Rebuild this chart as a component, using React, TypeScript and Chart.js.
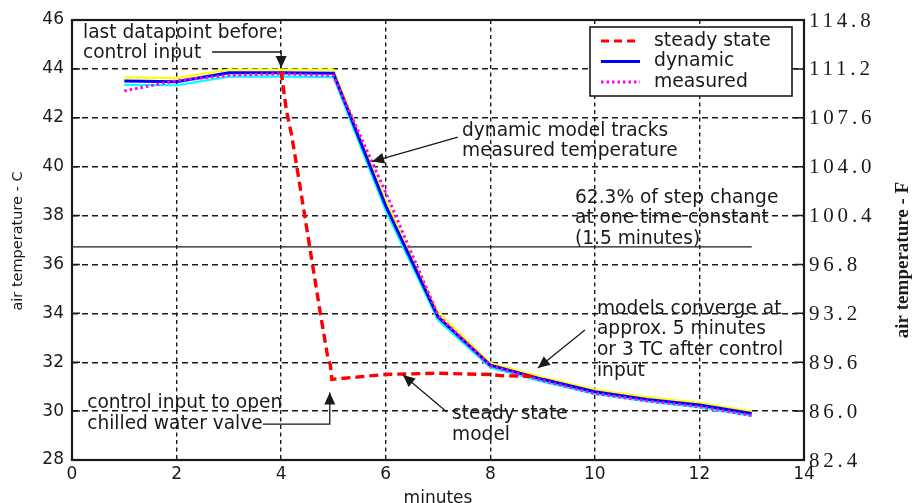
import React, { useEffect, useRef } from "react";
import { Chart, registerables } from "chart.js";

Chart.register(...registerables);

// ---------- data ----------
const minutes = [1, 2, 3, 4, 5, 6, 7, 8, 9, 10, 11, 12, 13];
const dynamicC = [43.5, 43.47, 43.84, 43.84, 43.82, 38.4, 33.86, 31.88, 31.3, 30.79, 30.48, 30.25, 29.9];
const measuredC = [43.1, 43.52, 43.74, 43.8, 43.72, 38.95, 33.92, 31.85, 31.25, 30.72, 30.42, 30.18, 29.82];
const dynamicUpperC = [43.65, 43.62, 43.97, 43.97, 43.97, 38.62, 34.05, 31.97, 31.38, 30.88, 30.57, 30.34, 29.99];
const dynamicLowerC = [43.35, 43.33, 43.68, 43.68, 43.66, 38.2, 33.72, 31.78, 31.2, 30.7, 30.4, 30.15, 29.8];

const steadyMinutes = [4.0, 4.1, 4.2, 4.3, 4.45, 4.6, 4.75, 4.9, 4.94, 4.97, 6.0, 7.0, 7.5, 8.0, 8.2, 8.8];
const steadyC = [43.9, 42.3, 41.3, 40.0, 38.0, 36.0, 34.0, 32.1, 31.9, 31.3, 31.5, 31.55, 31.52, 31.5, 31.45, 31.42];

const stepLineMinutes = [0, 13];
const stepLineC = [36.72, 36.72];

const xTicks = [0, 2, 4, 6, 8, 10, 12, 14];
const celsiusTicks = [28, 30, 32, 34, 36, 38, 40, 42, 44, 46];
const fahrenheitTicks = ["82.4", "86.0", "89.6", "93.2", "96.8", "100.4", "104.0", "107.6", "111.2", "114.8"];

const legendLabels = ["steady state", "dynamic", "measured"];

// annotations: text anchored in data coordinates, arrows as polylines in data coordinates
const notes = [
  { lines: ["last datapoint before", "control input"], at: [0.21, 45.47], arrow: [[2.68, 44.69], [4.0, 44.69], [4.0, 44.04]] },
  { lines: ["dynamic model tracks", "measured temperature"], at: [7.46, 41.47], arrow: [[7.38, 41.21], [5.74, 40.21]] },
  { lines: ["62.3% of step change", "at one time constant", "(1.5 minutes)"], at: [9.62, 38.72], arrow: null },
  { lines: ["models converge at", "approx. 5 minutes", "or 3 TC after control", "input"], at: [10.04, 34.18], arrow: [[9.81, 33.32], [8.91, 31.76]] },
  { lines: ["control input to open", "chilled water valve"], at: [0.29, 30.33], arrow: [[3.65, 29.47], [4.93, 29.47], [4.93, 30.76]] },
  { lines: ["steady state", "model"], at: [7.27, 29.88], arrow: [[7.17, 29.96], [6.33, 31.48]] },
];

// ---------- styles ----------
const SANS = '"DejaVu Sans", "Liberation Sans", sans-serif';
const SERIF = '"Liberation Serif", "DejaVu Serif", serif';
const INK = "#1a1a1a";
const RED = "#ff0000";
const BLUE = "#0000ff";
const MAGENTA = "#ff00ff";

const pts = (xs: number[], ys: number[]) => xs.map((x, i) => ({ x, y: ys[i] }));

const overlayPlugin = {
  id: "overlay",
  afterDraw(chart: any) {
    const { ctx, chartArea: a, scales } = chart;
    const sx = scales.x;
    const sy = scales.y;
    const sy2 = scales.y2;
    const X = (v: number) => sx.getPixelForValue(v);
    const Y = (v: number) => sy.getPixelForValue(v);

    ctx.save();
    ctx.setLineDash([]);
    ctx.strokeStyle = INK;
    ctx.fillStyle = INK;

    // inside tick marks
    ctx.lineWidth = 1.5;
    sy.ticks.forEach((t: any) => {
      const py = Y(t.value);
      ctx.beginPath();
      ctx.moveTo(a.left, py);
      ctx.lineTo(a.left + 8, py);
      ctx.moveTo(a.right, py);
      ctx.lineTo(a.right - 10, py);
      ctx.stroke();
    });

    // frame
    ctx.lineWidth = 2.2;
    ctx.strokeRect(a.left, a.top, a.right - a.left, a.bottom - a.top);

    // right axis labels (Fahrenheit)
    ctx.font = `21px ${SERIF}`;
    (ctx as any).letterSpacing = "3.8px";
    ctx.textAlign = "left";
    ctx.textBaseline = "middle";
    sy2.ticks.forEach((t: any, i: number) => {
      const label = fahrenheitTicks[i] ?? String(t.value);
      ctx.fillText(label, a.right + 5, sy2.getPixelForValue(t.value) + 1);
    });
    (ctx as any).letterSpacing = "0px";

    // axis titles
    ctx.save();
    ctx.translate(903, (a.top + a.bottom) / 2 + 20);
    ctx.rotate(-Math.PI / 2);
    ctx.font = `bold 19px ${SERIF}`;
    ctx.textAlign = "center";
    ctx.textBaseline = "middle";
    ctx.fillText("air temperature - F", 0, 0);
    ctx.restore();

    ctx.save();
    ctx.translate(18, (a.top + a.bottom) / 2 + 1);
    ctx.rotate(-Math.PI / 2);
    ctx.font = `14.5px ${SANS}`;
    ctx.textAlign = "center";
    ctx.textBaseline = "middle";
    ctx.fillText("air temperature - C", 0, 0);
    ctx.restore();

    ctx.font = `17px ${SANS}`;
    ctx.textAlign = "center";
    ctx.textBaseline = "middle";
    ctx.fillText("minutes", (a.left + a.right) / 2, a.bottom + 39);

    // annotations
    ctx.font = `18.6px ${SANS}`;
    ctx.textAlign = "left";
    ctx.textBaseline = "middle";
    notes.forEach((n) => {
      const x0 = X(n.at[0]);
      const y0 = Y(n.at[1]);
      n.lines.forEach((ln, i) => ctx.fillText(ln, x0, y0 + i * 20.7));
      if (n.arrow) {
        const p = n.arrow.map(([u, v]) => [X(u), Y(v)]);
        ctx.lineWidth = 1.3;
        ctx.beginPath();
        ctx.moveTo(p[0][0], p[0][1]);
        for (let i = 1; i < p.length; i++) ctx.lineTo(p[i][0], p[i][1]);
        ctx.stroke();
        const [tx, ty] = p[p.length - 1];
        const [bx, by] = p[p.length - 2];
        const ang = Math.atan2(ty - by, tx - bx);
        const len = 12;
        const hw = 5.5;
        ctx.beginPath();
        ctx.moveTo(tx, ty);
        ctx.lineTo(tx - len * Math.cos(ang) + hw * Math.sin(ang), ty - len * Math.sin(ang) - hw * Math.cos(ang));
        ctx.lineTo(tx - len * Math.cos(ang) - hw * Math.sin(ang), ty - len * Math.sin(ang) + hw * Math.cos(ang));
        ctx.closePath();
        ctx.fill();
      }
    });

    // legend box
    const lx = a.right - 214;
    const ly = a.top + 7;
    ctx.fillStyle = "#ffffff";
    ctx.fillRect(lx, ly, 202, 69);
    ctx.lineWidth = 1.6;
    ctx.strokeStyle = INK;
    ctx.strokeRect(lx, ly, 202, 69);
    const styles = [
      { color: RED, dash: [8, 5], width: 3 },
      { color: BLUE, dash: [], width: 3 },
      { color: MAGENTA, dash: [2.5, 3], width: 3 },
    ];
    ctx.font = `18.8px ${SANS}`;
    ctx.textAlign = "left";
    ctx.textBaseline = "middle";
    legendLabels.forEach((lab, i) => {
      const ry = ly + 14 + i * 20.5;
      const s = styles[i];
      ctx.strokeStyle = s.color;
      ctx.lineWidth = s.width;
      ctx.setLineDash(s.dash);
      ctx.beginPath();
      ctx.moveTo(lx + 11, ry);
      ctx.lineTo(lx + 50, ry);
      ctx.stroke();
      ctx.setLineDash([]);
      ctx.fillStyle = INK;
      ctx.fillText(lab, lx + 64, ry);
    });

    ctx.restore();
  },
};

export default function App() {
  const ref = useRef<HTMLCanvasElement | null>(null);

  useEffect(() => {
    if (!ref.current) return;
    const chart = new Chart(ref.current, {
      type: "line",
      data: {
        datasets: [
          {
            label: legendLabels[0],
            data: pts(steadyMinutes, steadyC),
            borderColor: RED,
            borderWidth: 3.4,
            borderDash: [9, 5],
            pointRadius: 0,
            tension: 0,
            yAxisID: "y",
          },
          {
            label: legendLabels[2],
            data: pts(minutes, measuredC),
            borderColor: MAGENTA,
            borderWidth: 3,
            borderDash: [2.5, 3],
            pointRadius: 0,
            tension: 0,
            yAxisID: "y",
          },
          {
            label: legendLabels[1],
            data: pts(minutes, dynamicC),
            borderColor: BLUE,
            borderWidth: 3,
            pointRadius: 0,
            tension: 0,
            yAxisID: "y",
          },
          {
            label: "upper",
            data: pts(minutes, dynamicUpperC),
            borderColor: "#ffff00",
            borderWidth: 2.2,
            pointRadius: 0,
            tension: 0,
            yAxisID: "y",
          },
          {
            label: "lower",
            data: pts(minutes, dynamicLowerC),
            borderColor: "#00ffff",
            borderWidth: 2.2,
            pointRadius: 0,
            tension: 0,
            yAxisID: "y",
          },
          {
            label: "62.3%",
            data: pts(stepLineMinutes, stepLineC),
            borderColor: INK,
            borderWidth: 1.4,
            pointRadius: 0,
            tension: 0,
            yAxisID: "y",
          },
        ],
      },
      options: {
        animation: false,
        responsive: false,
        devicePixelRatio: 1,
        layout: { padding: { top: 20, left: 0, right: 0, bottom: 0 } },
        plugins: { legend: { display: false }, tooltip: { enabled: false } },
        scales: {
          x: {
            type: "linear",
            min: xTicks[0],
            max: xTicks[xTicks.length - 1],
            afterBuildTicks: (s: any) => {
              s.ticks = xTicks.map((v) => ({ value: v }));
            },
            afterFit: (s: any) => {
              s.height = 43;
            },
            ticks: { font: { family: SANS, size: 17 }, color: INK, padding: 4, maxRotation: 0 },
            grid: { color: INK, lineWidth: 1.4, drawTicks: false },
            border: { display: false, dash: [4, 3.5] },
          },
          y: {
            type: "linear",
            position: "left",
            min: celsiusTicks[0],
            max: celsiusTicks[celsiusTicks.length - 1],
            afterBuildTicks: (s: any) => {
              s.ticks = celsiusTicks.map((v) => ({ value: v }));
            },
            afterFit: (s: any) => {
              s.width = 72;
            },
            ticks: { font: { family: SANS, size: 17 }, color: INK, padding: 8 },
            grid: { color: INK, lineWidth: 1.4, drawTicks: false },
            border: { display: false, dash: [6, 4] },
          },
          y2: {
            type: "linear",
            position: "right",
            min: 82.4,
            max: 114.8,
            afterBuildTicks: (s: any) => {
              s.ticks = fahrenheitTicks.map((v) => ({ value: parseFloat(v) }));
            },
            afterFit: (s: any) => {
              s.width = 108;
            },
            ticks: { display: false },
            grid: { display: false },
            border: { display: false },
          },
        },
      },
      plugins: [overlayPlugin],
    });
    return () => chart.destroy();
  }, []);

  return (
    <div style={{ position: "absolute", left: 0, top: 0, width: 912, height: 503, background: "#fff" }}>
      <canvas ref={ref} width={912} height={503} style={{ display: "block" }} />
    </div>
  );
}
